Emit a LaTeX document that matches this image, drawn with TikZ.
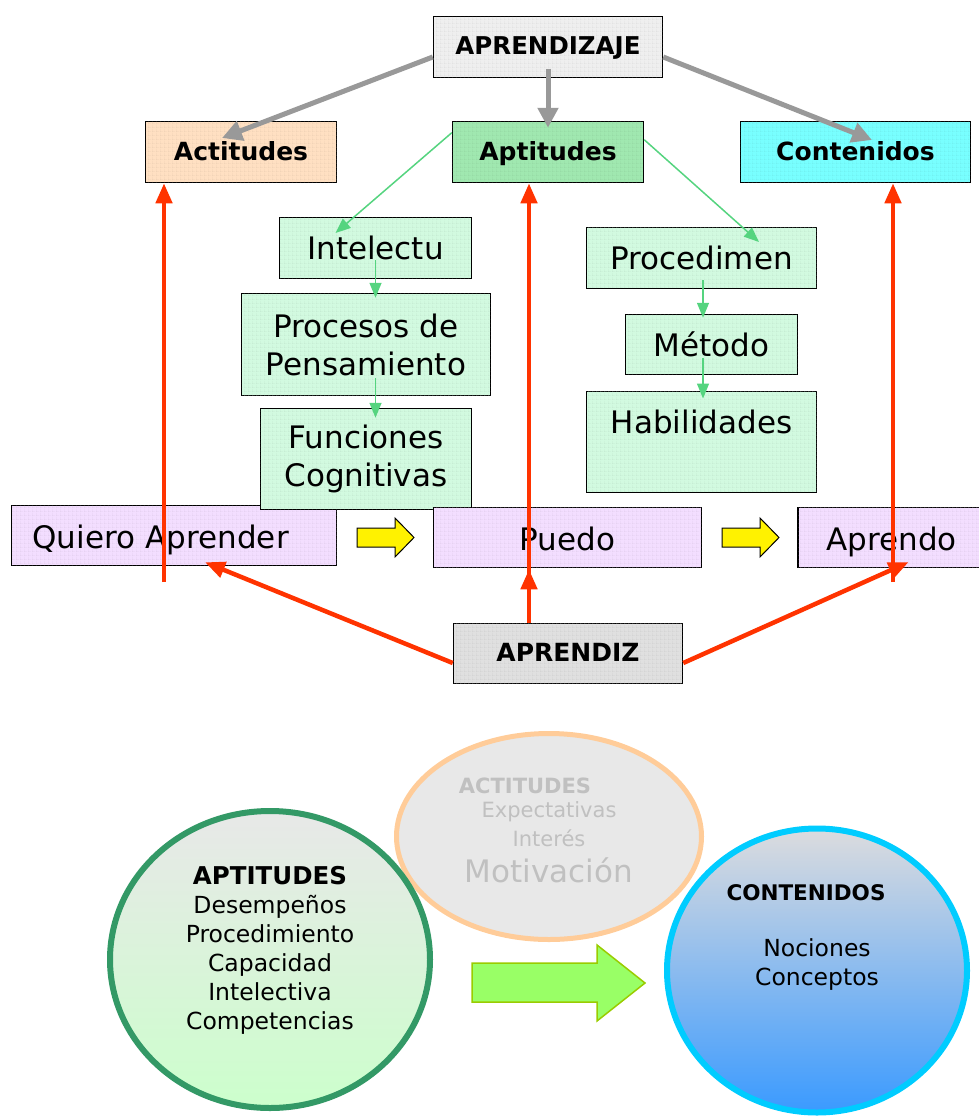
\documentclass[tikz,border=0pt]{standalone}
\usepackage{fontspec}
\setmainfont{DejaVu Sans}
\usetikzlibrary{shapes.geometric,arrows.meta,calc,patterns}
\definecolor{grayarr}{HTML}{999999}
\definecolor{redarr}{HTML}{FF3300}
\definecolor{greenln}{HTML}{55D47F}
\definecolor{boxgray}{HTML}{EFEFEF}
\definecolor{peach}{HTML}{FFE0C2}
\definecolor{aptgreen}{HTML}{A0E8B0}
\definecolor{cyanbox}{HTML}{78FFFF}
\definecolor{lightgreen}{HTML}{D2FAE0}
\definecolor{lavender}{HTML}{F3DEFF}
\definecolor{aprgray}{HTML}{E0E0E0}
\definecolor{ellfill}{HTML}{E8E8E8}
\definecolor{ellborder}{HTML}{FFCC99}
\definecolor{graytext}{HTML}{C0C0C0}
\definecolor{aptborder}{HTML}{339966}
\definecolor{conborder}{HTML}{00CCFF}
\definecolor{blockgreen}{HTML}{99FF66}
\definecolor{blockedge}{HTML}{99CC00}
\pgfdeclarepatternformonly{finegrid}{\pgfpointorigin}{\pgfqpoint{4pt}{4pt}}{\pgfqpoint{4pt}{4pt}}{%
  \pgfsetlinewidth{0.5pt}%
  \pgfpathmoveto{\pgfqpoint{0pt}{0pt}}\pgfpathlineto{\pgfqpoint{4pt}{0pt}}%
  \pgfpathmoveto{\pgfqpoint{0pt}{0pt}}\pgfpathlineto{\pgfqpoint{0pt}{4pt}}%
  \pgfusepath{stroke}}
\begin{document}
\begin{tikzpicture}[x=1pt,y=-1pt,
  box/.style={draw=black, line width=1.5pt, inner sep=0pt, align=center},
  gridfill/.style={fill=#1, postaction={pattern=finegrid, pattern color=#1!82!black}},
  topbox/.style={box, minimum height=61pt, text height=20pt, text depth=4pt, font=\fontsize{25}{30}\selectfont\bfseries},
  midbox/.style={box, gridfill=lightgreen, font=\fontsize{31}{38}\selectfont},
  rowbox/.style={box, gridfill=lavender, minimum height=60pt, text height=28pt, text depth=3pt, font=\fontsize{31}{38}\selectfont},
  grayarrow/.style={draw=grayarr, line width=5pt, -{Triangle[width=20pt,length=20pt]}},
  redarrow/.style={draw=redarr, line width=4.5pt, -{Triangle[width=16pt,length=20pt]}},
  greenarrow/.style={draw=greenln, line width=1.5pt, -{Triangle[width=12pt,length=15pt]}},
  yellowarrow/.style={draw=black, line width=1pt, fill=yellow},
  bigarrow/.style={draw=blockedge, line width=1.5pt, fill=blockgreen},
  greytxt/.style={text=graytext, inner sep=0pt},
  circtxt/.style={align=center, inner sep=0pt, font=\fontsize{23.5}{29}\selectfont}
]
\useasboundingbox (0,0) rectangle (979,1116);

% top row
\node[topbox, gridfill=boxgray, minimum width=229pt, font=\fontsize{24.5}{29}\selectfont\bfseries] (aprendizaje) at (548,47) {APRENDIZAJE};
\node[topbox, gridfill=peach, minimum width=191pt] (actitudes) at (241,152) {Actitudes};
\node[topbox, gridfill=aptgreen, minimum width=191pt] (aptitudes) at (548,152) {Aptitudes};
\node[topbox, gridfill=cyanbox, minimum width=230pt] (contenidos) at (855.5,152) {Contenidos};

% middle green boxes
\node[midbox, minimum width=192pt, minimum height=61pt] (intelectu) at (375.5,248) {Intelectu};
\node[midbox, minimum width=249pt, minimum height=102pt] (procesos) at (366,344.5) {Procesos de\\Pensamiento};
\node[midbox, minimum width=230pt, minimum height=61pt] (procedimen) at (701.5,258) {Procedimen};
\node[midbox, minimum width=172pt, minimum height=60pt] (metodo) at (711.5,344.5) {Método};
\node[midbox, minimum width=230pt, text height=42pt, text depth=59pt, anchor=north] (habilidades) at (701.5,390.5) {Habilidades};

% row boxes
\node[rowbox, minimum width=325pt, text width=325pt, align=left] (quiero) at (174,535.5) {\hspace*{21pt}Quiero Aprender};
\node[midbox, minimum width=211pt, minimum height=101pt] (funciones) at (366,459) {Funciones\\Cognitivas};
\node[rowbox, minimum width=268pt] (puedo) at (567.5,537.5) {Puedo};
\node[rowbox, minimum width=187pt] (aprendo) at (891.5,537.5) {Aprendo};
\node[topbox, gridfill=aprgray, minimum width=229pt, minimum height=60pt, font=\fontsize{25}{30}\selectfont\bfseries] (aprendiz) at (568,653.5) {APRENDIZ};

% yellow block arrows
\draw[yellowarrow] (357,528) -- (395,528) -- (395,518) -- (414,537.5) -- (395,557) -- (395,547) -- (357,547) -- cycle;
\draw[yellowarrow] (722,528) -- (760,528) -- (760,518) -- (779,537.5) -- (760,557) -- (760,547) -- (722,547) -- cycle;

% gray arrows
\draw[grayarrow] ([yshift=-10pt]aprendizaje.west) -- ($(actitudes.center)+(-19,-14)$);
\draw[grayarrow] ([yshift=-22pt]aprendizaje.center) -- ([yshift=-7pt]aptitudes.north);
\draw[grayarrow] ([yshift=-10pt]aprendizaje.east) -- ($(contenidos.center)+(16.5,-12)$);

% green thin arrows
\draw[greenarrow] ([yshift=-12pt]aptitudes.north west) -- ($(intelectu.center)+(-40,-15)$);
\draw[greenarrow] ([yshift=-19pt]aptitudes.north east) -- ($(procedimen.center)+(57.5,-16)$);
\draw[greenarrow] ($(intelectu.center)+(0,12)$) -- ($(intelectu.center |- procesos.north)+(0,5)$);
\draw[greenarrow] ($(intelectu.center |- procesos.center)+(0,33.5)$) -- ($(intelectu.center |- funciones.north)+(0,10)$);
\draw[greenarrow] ($(procedimen.center)+(1.5,22)$) -- ($(procedimen.center |- metodo.north)+(1.5,4)$);
\draw[greenarrow] ($(procedimen.center |- metodo.center)+(1.5,13)$) -- ($(procedimen.center |- habilidades.north)+(1.5,8)$);

% red arrows
\coordinate (qbot) at (164,582);
\coordinate (mx) at (529,582);
\coordinate (abot) at (893,582);
\draw[redarrow] (qbot) -- (qbot |- actitudes.south);
\draw[redarrow] (aprendiz.north -| mx) -- (aptitudes.south -| mx);
\draw[redarrow] (aprendiz.north -| mx) -- ([yshift=-1pt]puedo.south -| mx);
\draw[redarrow] (abot) -- (abot |- contenidos.south);
\draw[redarrow] ([yshift=-9.5pt]aprendiz.west) -- ($(quiero.south)+(31,-4)$);
\draw[redarrow] ([yshift=-9.5pt]aprendiz.east) -- ($(aprendo.south)+(17,-6)$);

% bottom part
\node[ellipse, draw=ellborder, line width=5pt, fill=ellfill, minimum width=305pt, minimum height=206pt, inner sep=0pt] (actell) at (549,836.5) {};
\node[greytxt, font=\fontsize{21}{25}\selectfont\bfseries] (acttitle) at (525,786) {ACTITUDES};
\node[greytxt, font=\fontsize{21}{25}\selectfont] (expect) at (549,812) {Expectativas};
\node[greytxt, font=\fontsize{21}{25}\selectfont] (interes) at (549,838) {Interés};
\node[greytxt, font=\fontsize{31}{36}\selectfont] (motiv) at (549,870) {Motivación};

\node[ellipse, draw=aptborder, line width=6pt, minimum width=320pt, minimum height=297pt, inner sep=0pt, top color=ellfill, bottom color={rgb,255:red,204;green,255;blue,204}] (aptcirc) at (270,959.5) {};
\node[circtxt] (apttxt) at (270,950) {{\fontsize{24.5}{29}\selectfont\bfseries APTITUDES}\\Desempeños\\Procedimiento\\Capacidad\\Intelectiva\\Competencias};

\draw[bigarrow] (472,963) -- (597,963) -- (597,945) -- (645,983) -- (597,1021) -- (597,1002) -- (472,1002) -- cycle;

\node[ellipse, draw=conborder, line width=6pt, minimum width=300pt, minimum height=284pt, inner sep=0pt, top color={rgb,255:red,220;green,220;blue,222}, middle color={rgb,255:red,168;green,192;blue,236}, bottom color={rgb,255:red,58;green,154;blue,255}] (concirc) at (817,970.5) {};
\node[circtxt, font=\fontsize{21.5}{25}\selectfont\bfseries] (contitle) at (806,893) {CONTENIDOS};
\node[circtxt] (contxt) at (817,964.5) {Nociones\\Conceptos};
\end{tikzpicture}
\end{document}
